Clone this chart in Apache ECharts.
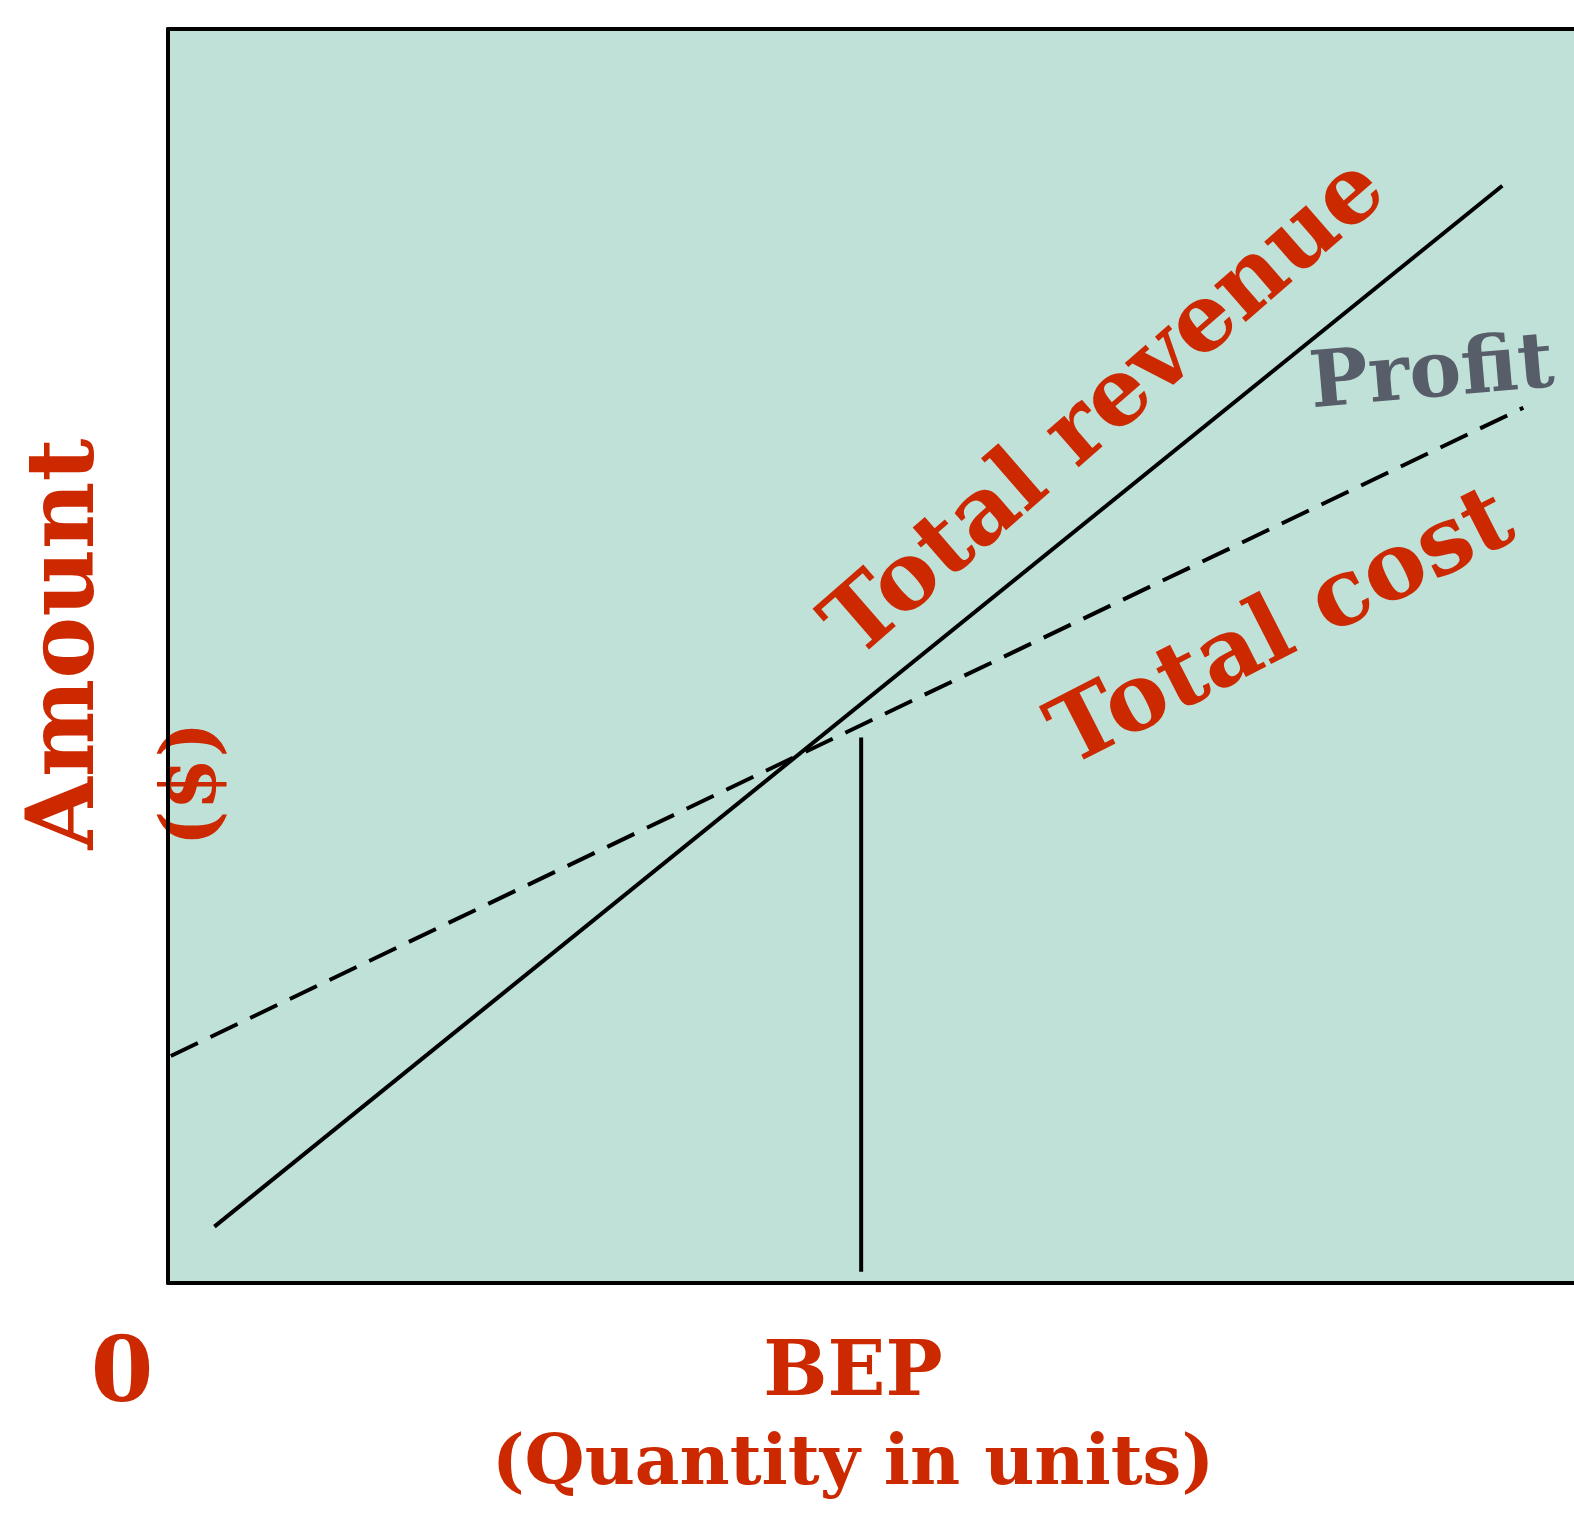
<!DOCTYPE html>
<html>
<head>
<meta charset="utf-8">
<script src="https://cdn.jsdelivr.net/npm/echarts@6/dist/echarts.min.js"></script>
<style>html,body{margin:0;padding:0;background:#fff;}#c{width:1574px;height:1519px;}</style>
</head>
<body>
<div id="c"></div>
<script>
// Break-even chart data (quantity 0..100, amount 0..100)
const revenueLine = [[3.3, 4.5], [94.9, 87.5]];
const costLine = [[0.2, 18.1], [96.4, 69.8]];
const bepLine = [[49.3, 0.9], [49.3, 43.5]];
const lineLabels = [
  { name: 'Total revenue', value: [66.8, 69.6], rotate: 41, color: '#cc2900', size: 93 },
  { name: 'Total cost', value: [79.3, 52.0], rotate: 27, color: '#cc2900', size: 93 },
  { name: 'Profit', value: [89.9, 72.3], rotate: 5, color: '#575e6a', size: 78 }
];
const yTitle = ['Amount', '($)'];
const xTitle = ['BEP', '(Quantity in units)'];
const originLabel = '0';

const RED = '#cc2900';
const FONT = 'DejaVu Serif';
const chart = echarts.init(document.getElementById('c'), null, { renderer: 'canvas' });
const axisBase = {
  type: 'value', min: 0, max: 100,
  axisTick: { show: false }, axisLabel: { show: false }, splitLine: { show: false },
  axisLine: { show: true, lineStyle: { color: '#000', width: 4 } }
};
chart.setOption({
  animation: false,
  grid: { left: 168, top: 29, right: 0, bottom: 236, show: true, backgroundColor: '#c0e1d8', borderWidth: 0 },
  xAxis: [
    Object.assign({}, axisBase, { position: 'bottom' }),
    Object.assign({}, axisBase, { position: 'top' })
  ],
  yAxis: [Object.assign({}, axisBase, { position: 'left' })],
  series: [
    { type: 'line', data: revenueLine, symbol: 'none', lineStyle: { color: '#000', width: 4 } },
    { type: 'line', data: costLine, symbol: 'none', lineStyle: { color: '#000', width: 4, type: [30, 14] } },
    { type: 'line', data: bepLine, symbol: 'none', lineStyle: { color: '#000', width: 4 } },
    {
      type: 'scatter', symbolSize: 0, itemStyle: { opacity: 1 },
      data: lineLabels.map(d => ({
        name: d.name, value: d.value,
        label: { show: true, position: 'inside', formatter: '{b}', rotate: d.rotate,
          color: d.color, fontSize: d.size, fontFamily: FONT, fontWeight: 'bold', opacity: 1 }
      }))
    }
  ],
  graphic: [
    { type: 'text', x: 69, y: 644, rotation: Math.PI / 2,
      style: { text: yTitle[0], fill: RED, font: 'bold 93px "DejaVu Serif"', align: 'center', verticalAlign: 'middle' } },
    { type: 'text', x: 195, y: 784, rotation: Math.PI / 2,
      style: { text: yTitle[1], fill: RED, font: 'bold 76px "DejaVu Serif"', align: 'center', verticalAlign: 'middle' } },
    { type: 'text', x: 122, y: 1378,
      style: { text: originLabel, fill: RED, font: 'bold 90px "DejaVu Serif"', align: 'center', verticalAlign: 'middle' } },
    { type: 'text', x: 853, y: 1375,
      style: { text: xTitle[0], fill: RED, font: 'bold 76px "DejaVu Serif"', align: 'center', verticalAlign: 'middle' } },
    { type: 'text', x: 853, y: 1466,
      style: { text: xTitle[1], fill: RED, font: 'bold 69px "DejaVu Serif"', align: 'center', verticalAlign: 'middle' } }
  ]
});
</script>
</body>
</html>
